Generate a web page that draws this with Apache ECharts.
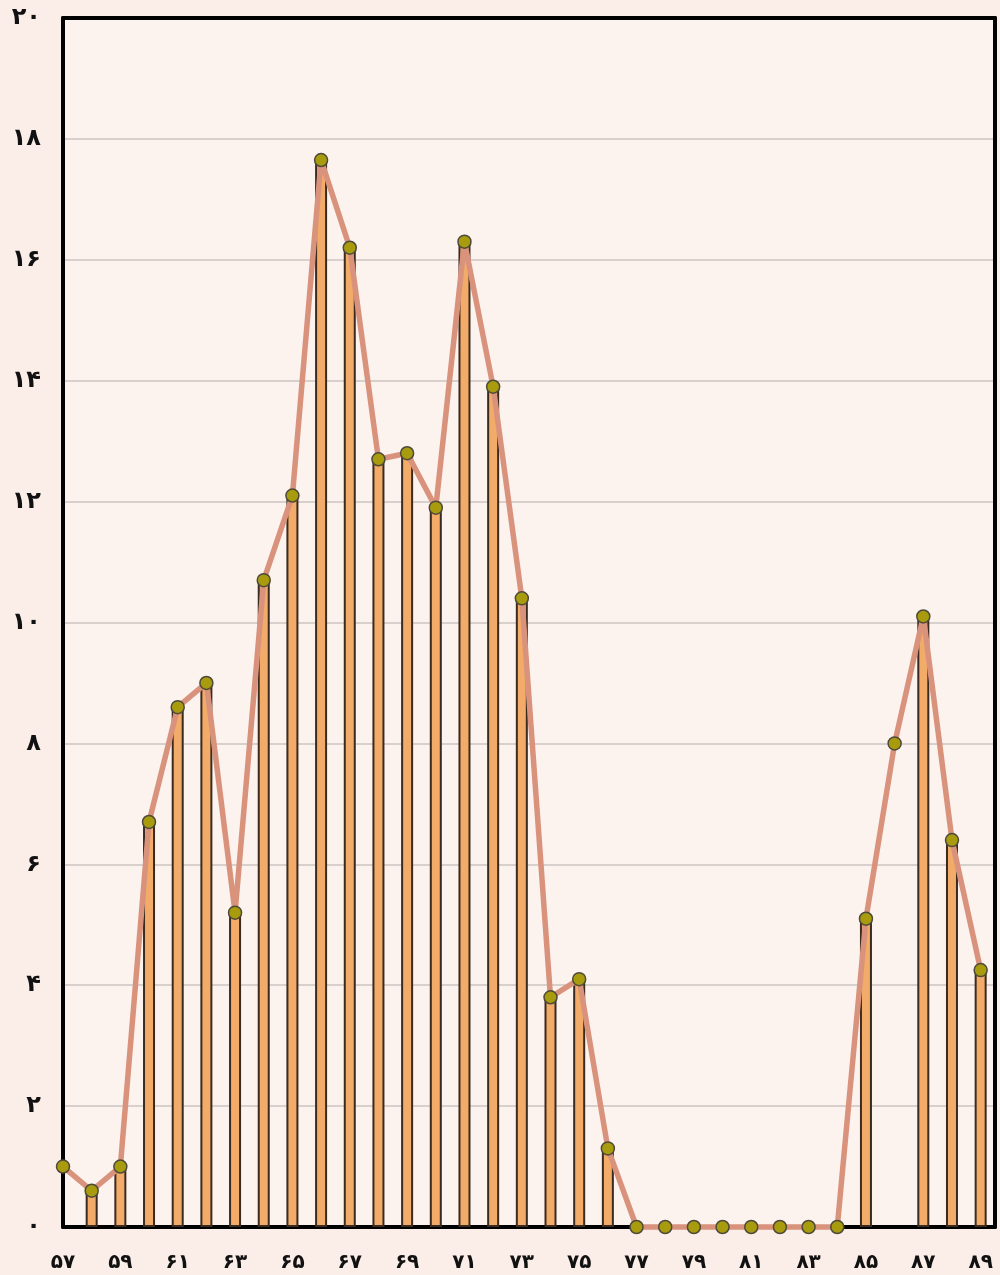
<!DOCTYPE html>
<html>
<head>
<meta charset="utf-8">
<script src="https://cdn.jsdelivr.net/npm/echarts@6/dist/echarts.min.js"></script>
<style>
  html, body { margin: 0; padding: 0; background: #fbeee9; }
  #chart { width: 1000px; height: 1275px; }
</style>
</head>
<body>
<div id="chart"></div>
<script>
// سال‌ها (محور افقی)
const years = [57, 58, 59, 60, 61, 62, 63, 64, 65, 66, 67, 68, 69, 70, 71, 72, 73,
  74, 75, 76, 77, 78, 79, 80, 81, 82, 83, 84, 85, 86, 87, 88, 89];
// مقادیر خط
const lineValues = [1.0, 0.6, 1.0, 6.7, 8.6, 9.0, 5.2, 10.7, 12.1, 17.65, 16.2, 12.7, 12.8,
  11.9, 16.3, 13.9, 10.4, 3.8, 4.1, 1.3, 0, 0, 0, 0, 0, 0, 0, 0, 5.1, 8.0, 10.1, 6.4, 4.25];
// مقادیر ستون‌ها (57 و 86 ستون ندارند)
const barValues = [null, 0.6, 1.0, 6.7, 8.6, 9.0, 5.2, 10.7, 12.1, 17.65, 16.2, 12.7, 12.8,
  11.9, 16.3, 13.9, 10.4, 3.8, 4.1, 1.3, 0, 0, 0, 0, 0, 0, 0, 0, 5.1, null, 10.1, 6.4, 4.25];

const faDigits = ['۰', '۱', '۲', '۳', '۴', '۵', '۶', '۷', '۸', '۹'];
const toFa = n => String(n).replace(/\d/g, d => faDigits[+d]);

const frameLine = { show: true, onZero: false, lineStyle: { color: '#000', width: 4 } };

const chart = echarts.init(document.getElementById('chart'));

chart.setOption({
  backgroundColor: '#fbeee9',
  animation: false,
  grid: {
    left: 63, top: 18, right: 5, bottom: 48,
    show: true,
    backgroundColor: '#fcf2ee',
    borderWidth: 0
  },
  xAxis: [
    {
      type: 'value',
      min: 57,
      max: 89.5,
      interval: 2,
      axisLine: frameLine,
      axisTick: { show: false },
      splitLine: { show: false },
      axisLabel: {
        margin: 26,
        color: '#111',
        fontFamily: 'DejaVu Sans',
        fontWeight: 'bold',
        fontSize: 20,
        formatter: v => Number.isInteger(v) ? toFa(v) : ''
      }
    },
    {
      type: 'value',
      position: 'top',
      min: 57,
      max: 89.5,
      axisLine: frameLine,
      axisTick: { show: false },
      axisLabel: { show: false },
      splitLine: { show: false }
    }
  ],
  yAxis: [
    {
      type: 'value',
      min: 0,
      max: 20,
      interval: 2,
      axisLine: frameLine,
      axisTick: { show: false },
      splitLine: { show: true, lineStyle: { color: '#cdc4c0', width: 1.5 } },
      axisLabel: {
        margin: 22,
        color: '#111',
        fontFamily: 'DejaVu Sans',
        fontWeight: 'bold',
        fontSize: 24,
        formatter: v => toFa(v)
      }
    },
    {
      type: 'value',
      position: 'right',
      min: 0,
      max: 20,
      axisLine: frameLine,
      axisTick: { show: false },
      axisLabel: { show: false },
      splitLine: { show: false }
    }
  ],
  series: [
    {
      type: 'bar',
      barWidth: 12,
      data: years.map((y, i) => barValues[i] == null ? [y, '-'] : [y, barValues[i]]),
      itemStyle: { color: '#f2ab68', borderColor: '#3b2a1f', borderWidth: 2 },
      z: 2
    },
    {
      type: 'line',
      data: years.map((y, i) => [y, lineValues[i]]),
      clip: false,
      showAllSymbol: true,
      symbol: 'circle',
      symbolSize: 13,
      lineStyle: { color: '#d9937d', width: 5.5 },
      itemStyle: { color: '#a99b0e', borderColor: '#4e4a3a', borderWidth: 1.5 },
      z: 3
    }
  ]
});
</script>
</body>
</html>
